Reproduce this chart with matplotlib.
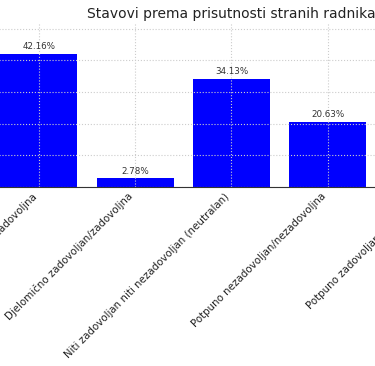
import matplotlib
matplotlib.use("Agg")
import matplotlib.pyplot as plt

categories = [
    "Djelomično nezadovoljan/nezadovoljna",
    "Djelomično zadovoljan/zadovoljna",
    "Niti zadovoljan niti nezadovoljan (neutralan)",
    "Potpuno nezadovoljan/nezadovoljna",
    "Potpuno zadovoljan/zadovoljna",
]
values = [42.16, 2.78, 34.13, 20.63, 0.30]
title = "Stavovi prema prisutnosti stranih radnika"

W, H = 375, 366
fig = plt.figure(figsize=(W / 100, H / 100), dpi=100)
left_px, right_px, top_px, bottom_px = -23, 486, 23, 187
ax = fig.add_axes([left_px / W, 1 - bottom_px / H,
                   (right_px - left_px) / W, (bottom_px - top_px) / H])

x = list(range(len(categories)))
bars = ax.bar(x, values, width=0.8, color="blue", zorder=1)
ax.set_ylim(0, 51.8)
ax.set_xticks(x)
ax.set_xticklabels(categories, rotation=45, ha="right", fontsize=7.35, color="#222222")
ax.tick_params(axis="x", length=0, pad=3)
ax.tick_params(axis="y", labelsize=7)
ax.grid(True, linestyle=":", color="#cccccc", linewidth=0.8, zorder=2)
ax.set_axisbelow(False)
for s in ["top", "right", "left"]:
    ax.spines[s].set_visible(False)
ax.spines["bottom"].set_color("#333333")
for b, v in zip(bars, values):
    ax.text(b.get_x() + b.get_width() / 2, v + 0.8, f"{v:.2f}%",
            ha="center", va="bottom", fontsize=6.3, color="#333333")
ax.set_title(title, fontsize=10, color="#222222", pad=3.5)

fig.savefig("out.png", dpi=100)
